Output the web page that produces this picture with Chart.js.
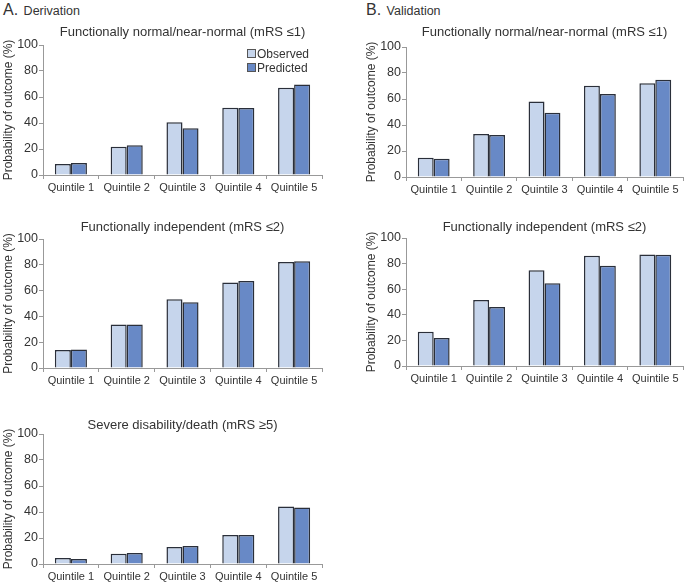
<!DOCTYPE html>
<html>
<head>
<meta charset="utf-8">
<script src="https://cdn.jsdelivr.net/npm/chart.js@4"></script>
<style>
  body { margin: 0; background: #fff; font-family: "Liberation Sans", Arial, sans-serif; }
  #page { position: relative; width: 685px; height: 583px; overflow: hidden; }
  .panel-label { position: absolute; color: #333; font-size: 12.5px; }
  .panel-label b { font-weight: normal; font-size: 16px; margin-right: 2px; }
  .box { position: absolute; }
  .legend { position: absolute; left: 247px; top: 47px; font-size: 12px; color: #333; line-height: 14px; }
  .legend span.sw { display: inline-block; width: 7px; height: 7px; border: 1px solid #555; margin-right: 1px; vertical-align: 0px; }
</style>
</head>
<body>
<div id="page">
  <div class="panel-label" style="left:3px;top:1px"><b>A.</b> Derivation</div>
  <div class="panel-label" style="left:366px;top:1px"><b>B.</b> Validation</div>
  <div class="box" style="left:0;top:19px;width:335px;height:176px"><canvas id="a1"></canvas></div>
  <div class="box" style="left:0;top:213px;width:335px;height:175px"><canvas id="a2"></canvas></div>
  <div class="box" style="left:0;top:408px;width:335px;height:176px"><canvas id="a3"></canvas></div>
  <div class="box" style="left:363px;top:21px;width:322px;height:176px"><canvas id="b1"></canvas></div>
  <div class="box" style="left:363px;top:212px;width:322px;height:174px"><canvas id="b2"></canvas></div>
  <div class="legend" id="legend"></div>
</div>
<script>
// categories and series
const quintiles = ["Quintile 1", "Quintile 2", "Quintile 3", "Quintile 4", "Quintile 5"];
const seriesNames = ["Observed", "Predicted"];
const seriesColors = ["#c6d5ec", "#6889c6"];

// A. Derivation
const derivNormalObs = [8.5, 21.8, 40.5, 51.7, 67.2];
const derivNormalPred = [9.3, 22.8, 36, 51.6, 69.7];
const derivIndepObs = [13.9, 33.7, 53.3, 66.2, 82.1];
const derivIndepPred = [14.4, 33.7, 51, 67.4, 82.8];
const derivSevereObs = [4.7, 7.8, 13.1, 22.3, 44.2];
const derivSeverePred = [3.9, 8.5, 13.9, 22.4, 43.4];

// B. Validation
const validNormalObs = [14.9, 33.1, 58.1, 70.1, 72.2];
const validNormalPred = [14.1, 32.3, 49.4, 63.8, 74.8];
const validIndepObs = [26.7, 51.6, 74.8, 86.1, 87.2];
const validIndepPred = [21.8, 46, 64.6, 78.3, 86.9];

const yTicks = [0, 20, 40, 60, 80, 100];

const font = "'Liberation Sans', Arial, sans-serif";

// titleGap: padding below the panel title, right: padding to the right of the plot
function makeChart(id, title, obs, pred, titleGap, right) {
  const ctx = document.getElementById(id).getContext('2d');
  return new Chart(ctx, {
    type: 'bar',
    data: {
      labels: quintiles,
      datasets: [obs, pred].map((vals, i) => ({
        label: seriesNames[i],
        data: vals,
        backgroundColor: seriesColors[i],
        borderColor: '#2a2f3a',
        borderWidth: 1.5,
        barPercentage: 1,
        categoryPercentage: 0.575
      }))
    },
    options: {
      responsive: false,
      animation: false,
      layout: { padding: { left: 0, right: right, top: 0, bottom: 0 } },
      plugins: {
        legend: { display: false },
        tooltip: { enabled: false },
        title: {
          display: true,
          fullSize: false,
          text: title,
          color: '#333',
          font: { family: font, size: 13, weight: 'normal', lineHeight: 1.2 },
          padding: { top: 10.4 - titleGap, bottom: titleGap }
        }
      },
      scales: {
        x: {
          offset: true,
          afterFit: axis => { axis.height = 20; },
          grid: { display: true, drawOnChartArea: false, offset: true, tickLength: 4, color: '#999' },
          border: { color: '#999' },
          ticks: { color: '#333', font: { family: font, size: 11 }, padding: 2, maxRotation: 0, autoSkip: false }
        },
        y: {
          min: 0, max: 100,
          afterBuildTicks: axis => { axis.ticks = yTicks.map(v => ({ value: v })); },
          afterFit: axis => { axis.width = 43; },
          grid: { display: true, drawOnChartArea: false, tickLength: 4, color: '#999' },
          border: { color: '#999' },
          ticks: { color: '#333', font: { family: font, size: 12.5 }, padding: 1 },
          title: {
            display: true,
            text: 'Probability of outcome (%)',
            color: '#333',
            font: { family: font, size: 12 },
            padding: { top: 1, bottom: 0 }
          }
        }
      }
    }
  });
}

function sizeCanvas(id) {
  const c = document.getElementById(id);
  const p = c.parentElement;
  c.width = p.clientWidth;
  c.height = p.clientHeight;
  c.style.width = p.clientWidth + 'px';
  c.style.height = p.clientHeight + 'px';
}
['a1', 'a2', 'a3', 'b1', 'b2'].forEach(sizeCanvas);

makeChart('a1', 'Functionally normal/near-normal (mRS \u22641)', derivNormalObs, derivNormalPred, 5.2, 13);
makeChart('a2', 'Functionally independent (mRS \u22642)', derivIndepObs, derivIndepPred, 4.2, 13);
makeChart('a3', 'Severe disability/death (mRS \u22655)', derivSevereObs, derivSeverePred, 1.2, 13);
makeChart('b1', 'Functionally normal/near-normal (mRS \u22641)', validNormalObs, validNormalPred, 7.2, 2);
makeChart('b2', 'Functionally independent (mRS \u22642)', validIndepObs, validIndepPred, 3.2, 2);

// legend for the first panel
document.getElementById('legend').innerHTML = seriesNames.map((n, i) =>
  '<div><span class="sw" style="background:' + seriesColors[i] + '"></span>' + n + '</div>'
).join('');
</script>
</body>
</html>
